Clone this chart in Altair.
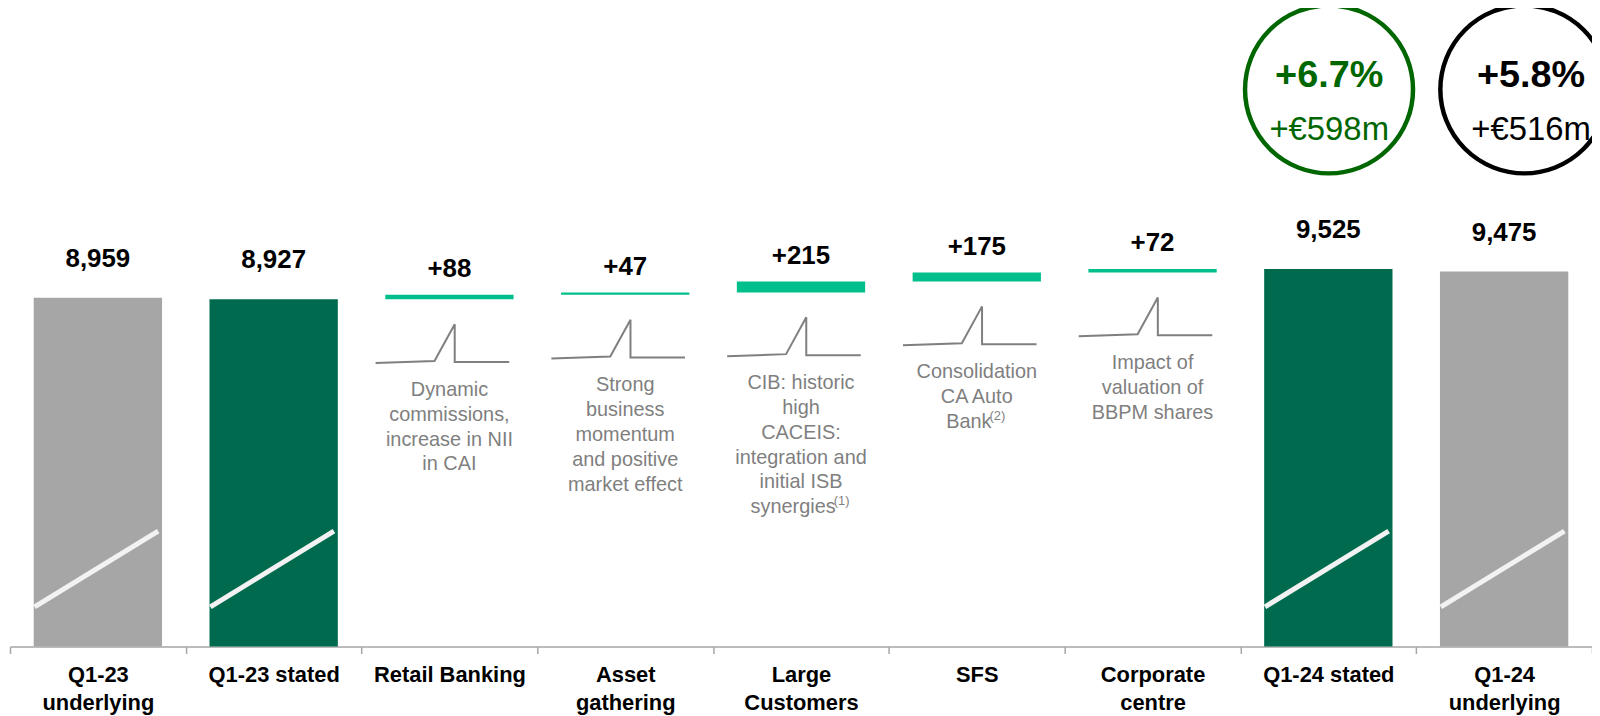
import json
import altair as alt
import pandas as pd

# ---------------- data ----------------
categories = ["Q1-23 underlying", "Q1-23 stated", "Retail Banking", "Asset gathering",
              "Large Customers", "SFS", "Corporate centre", "Q1-24 stated", "Q1-24 underlying"]
axis_lines = [["Q1-23", "underlying"], ["Q1-23 stated"], ["Retail Banking"], ["Asset", "gathering"],
              ["Large", "Customers"], ["SFS"], ["Corporate", "centre"], ["Q1-24 stated"], ["Q1-24", "underlying"]]
kinds = ["underlying", "stated", "delta", "delta", "delta", "delta", "delta", "stated", "underlying"]
values = [8959, 8927, 88, 47, 215, 175, 72, 9525, 9475]
value_labels = ["8,959", "8,927", "+88", "+47", "+215", "+175", "+72", "9,525", "9,475"]
notes = [
    [], [],
    ["Dynamic", "commissions,", "increase in NII", "in CAI"],
    ["Strong", "business", "momentum", "and positive", "market effect"],
    ["CIB: historic", "high", "CACEIS:", "integration and", "initial ISB", "synergies"],
    ["Consolidation", "CA Auto", "Bank"],
    ["Impact of", "valuation of", "BBPM shares"],
    [], [],
]
footnotes = ["", "", "", "", "(1)", "(2)", "", "", ""]
growth_pct = ["+6.7%", "+5.8%"]
growth_eur = ["+€598m", "+€516m"]
growth_colors = ["#006600", "#000000"]

# ---------------- layout / style ----------------
PLOT_W, PLOT_H = 1590, 640
Y_MIN, Y_MAX = 2107, 14614            # broken value axis
K = PLOT_H / (Y_MAX - Y_MIN)          # px per unit
STEP = PLOT_W / len(categories)       # px per category


def px(p):
    return p / K


# approximate Arial advance widths (em) for placing the footnote markers
_W = {"s": .5, "y": .5, "n": .556, "e": .556, "r": .333, "g": .556, "i": .222,
      "B": .667, "a": .556, "k": .5, "(": .333, ")": .333}


def text_w(s, size):
    return sum(_W.get(c, .556) for c in s) * size


FONT = "Liberation Sans"
NOTE_SIZE, NOTE_LH, SUP_SIZE = 20, 25, 13
COLORS = {"underlying": "#A6A6A6", "stated": "#006A4E", "delta": "#00BF8C"}
BAR_L, BAR_R = 0.135, 0.865

bars, labels, note_rows, sup_rows, breaks, spikes = [], [], [], [], [], []
running = values[1]
for i, (cat, kind, v) in enumerate(zip(categories, kinds, values)):
    if kind == "delta":
        lo, hi = running, running + v
        running = hi
        lab_y = hi + px(26)
    else:
        lo, hi = Y_MIN, v
        lab_y = hi + px(39)
        breaks.append({"cat": cat, "x": i + 0.14, "x2": i + 0.843,
                       "y": Y_MIN + px(40), "y2": Y_MIN + px(116)})
    bars.append({"cat": cat, "kind": kind, "x": i + BAR_L, "x2": i + BAR_R, "y": lo, "y2": hi})
    labels.append({"cat": cat, "x": i + 0.5, "y": lab_y, "text": value_labels[i]})
    if notes[i]:
        ny = lo - px(81)
        fn = footnotes[i]
        last = notes[i][-1]
        if fn:
            wl = text_w(last, NOTE_SIZE)
            ws = text_w(fn, SUP_SIZE)
            shift = -ws / 2  # whole last line (word + marker) is centred
            sup_x = i + 0.5 + (wl / 2 + shift + ws / 2 - 2) / STEP
            last_y = ny - px(NOTE_LH * (len(notes[i]) - 1))
            sup_rows.append({"cat": cat, "x": sup_x, "y": last_y + px(2), "text": fn})
            note_rows.append({"cat": cat, "x": i + 0.5, "y": ny, "text": "\n".join(notes[i][:-1])})
            note_rows.append({"cat": cat, "x": i + 0.5 + shift / STEP, "y": last_y, "text": last})
        else:
            note_rows.append({"cat": cat, "x": i + 0.5, "y": ny, "text": "\n".join(notes[i])})
        shape = [(-0.42, 64), (-0.085, 62), (0.03, 25), (0.03, 63), (0.34, 63)]
        for j, (dx, dyp) in enumerate(shape):
            spikes.append({"cat": cat, "ord": j, "x": i + 0.5 + dx, "y": lo - px(dyp)})

bars_df = pd.DataFrame(bars)
labels_df = pd.DataFrame(labels)
notes_df = pd.DataFrame(note_rows)
sup_df = pd.DataFrame(sup_rows)
breaks_df = pd.DataFrame(breaks)
spikes_df = pd.DataFrame(spikes)

xscale = alt.Scale(domain=[0, len(categories)], nice=False, zero=False)
yscale = alt.Scale(domain=[Y_MIN, Y_MAX], nice=False, zero=False)

label_array = "[" + ",".join(json.dumps(l) for l in axis_lines) + "]"
tick_vals = [i * 0.5 for i in range(2 * len(categories) + 1)]

x_axis = alt.Axis(
    values=tick_vals,
    labelExpr=f"datum.value % 1 == 0 ? '' : {label_array}[floor(datum.value)]",
    tickOpacity={"condition": {"test": "datum.value % 1 == 0", "value": 1}, "value": 0},
    tickSize=7, tickWidth=1.5, tickColor="#A6A6A6",
    domainColor="#A6A6A6", domainWidth=1.5,
    labelFont=FONT, labelFontSize=22, labelFontWeight="bold", labelColor="#000000",
    labelLineHeight=28, labelBaseline="top", labelPadding=11,
    labelOverlap=False, labelFlush=False, labelBound=False,
    grid=False, title=None,
)

X = alt.X("x:Q", scale=xscale, axis=x_axis)
Y = alt.Y("y:Q", scale=yscale, axis=None)

bar_layer = alt.Chart(bars_df).mark_bar().encode(
    x=X, x2="x2:Q", y=Y, y2="y2:Q",
    color=alt.Color("kind:N", scale=alt.Scale(domain=list(COLORS), range=list(COLORS.values())), legend=None),
)

break_layer = alt.Chart(breaks_df).mark_rule(color="#F2F2F2", strokeWidth=5).encode(
    x=X, x2="x2:Q", y=Y, y2="y2:Q")

spike_layer = alt.Chart(spikes_df).mark_line(color="#7F7F7F", strokeWidth=2).encode(
    x=X, y=Y, detail="cat:N", order="ord:Q")

value_layer = alt.Chart(labels_df).mark_text(
    font=FONT, fontSize=26, fontWeight="bold", color="#000000", baseline="middle", align="center"
).encode(x=X, y=Y, text="text:N")

note_layer = alt.Chart(notes_df).mark_text(
    font=FONT, fontSize=NOTE_SIZE, color="#7F7F7F", baseline="top", align="center",
    lineBreak="\n", lineHeight=NOTE_LH,
).encode(x=X, y=Y, text="text:N")

sup_layer = alt.Chart(sup_df).mark_text(
    font=FONT, fontSize=SUP_SIZE, color="#7F7F7F", baseline="top", align="center",
).encode(x=X, y=Y, text="text:N")

circ_df = pd.DataFrame({
    "x": [7.504, 8.615], "tx": [7.505, 8.653],
    "pct": growth_pct, "eur": growth_eur, "col": growth_colors,
})
TX = alt.X("tx:Q", scale=xscale, axis=x_axis)
circle_layer = alt.Chart(circ_df).mark_point(
    shape="circle", size=28500, filled=False, strokeWidth=4.5, opacity=1
).encode(x=X, y=alt.value(80),
         color=alt.Color("col:N", scale=None))
pct_layer = alt.Chart(circ_df).mark_text(
    font=FONT, fontSize=38, fontWeight="bold", baseline="middle", align="center"
).encode(x=TX, y=alt.value(67), text="pct:N",
         color=alt.Color("col:N", scale=None))
eur_layer = alt.Chart(circ_df).mark_text(
    font=FONT, fontSize=33, baseline="middle", align="center"
).encode(x=TX, y=alt.value(121), text="eur:N",
         color=alt.Color("col:N", scale=None))

chart = alt.layer(
    bar_layer, break_layer, spike_layer, value_layer, note_layer, sup_layer,
    circle_layer, pct_layer, eur_layer,
).properties(
    width=PLOT_W, height=PLOT_H,
    autosize=alt.AutoSizeParams(type="none"),
    padding={"left": 2, "top": 0, "right": 0, "bottom": 70},
    background="#FFFFFF",
).configure_view(stroke=None)

chart.save("out.html", embed_options={"renderer": "svg", "actions": False})
